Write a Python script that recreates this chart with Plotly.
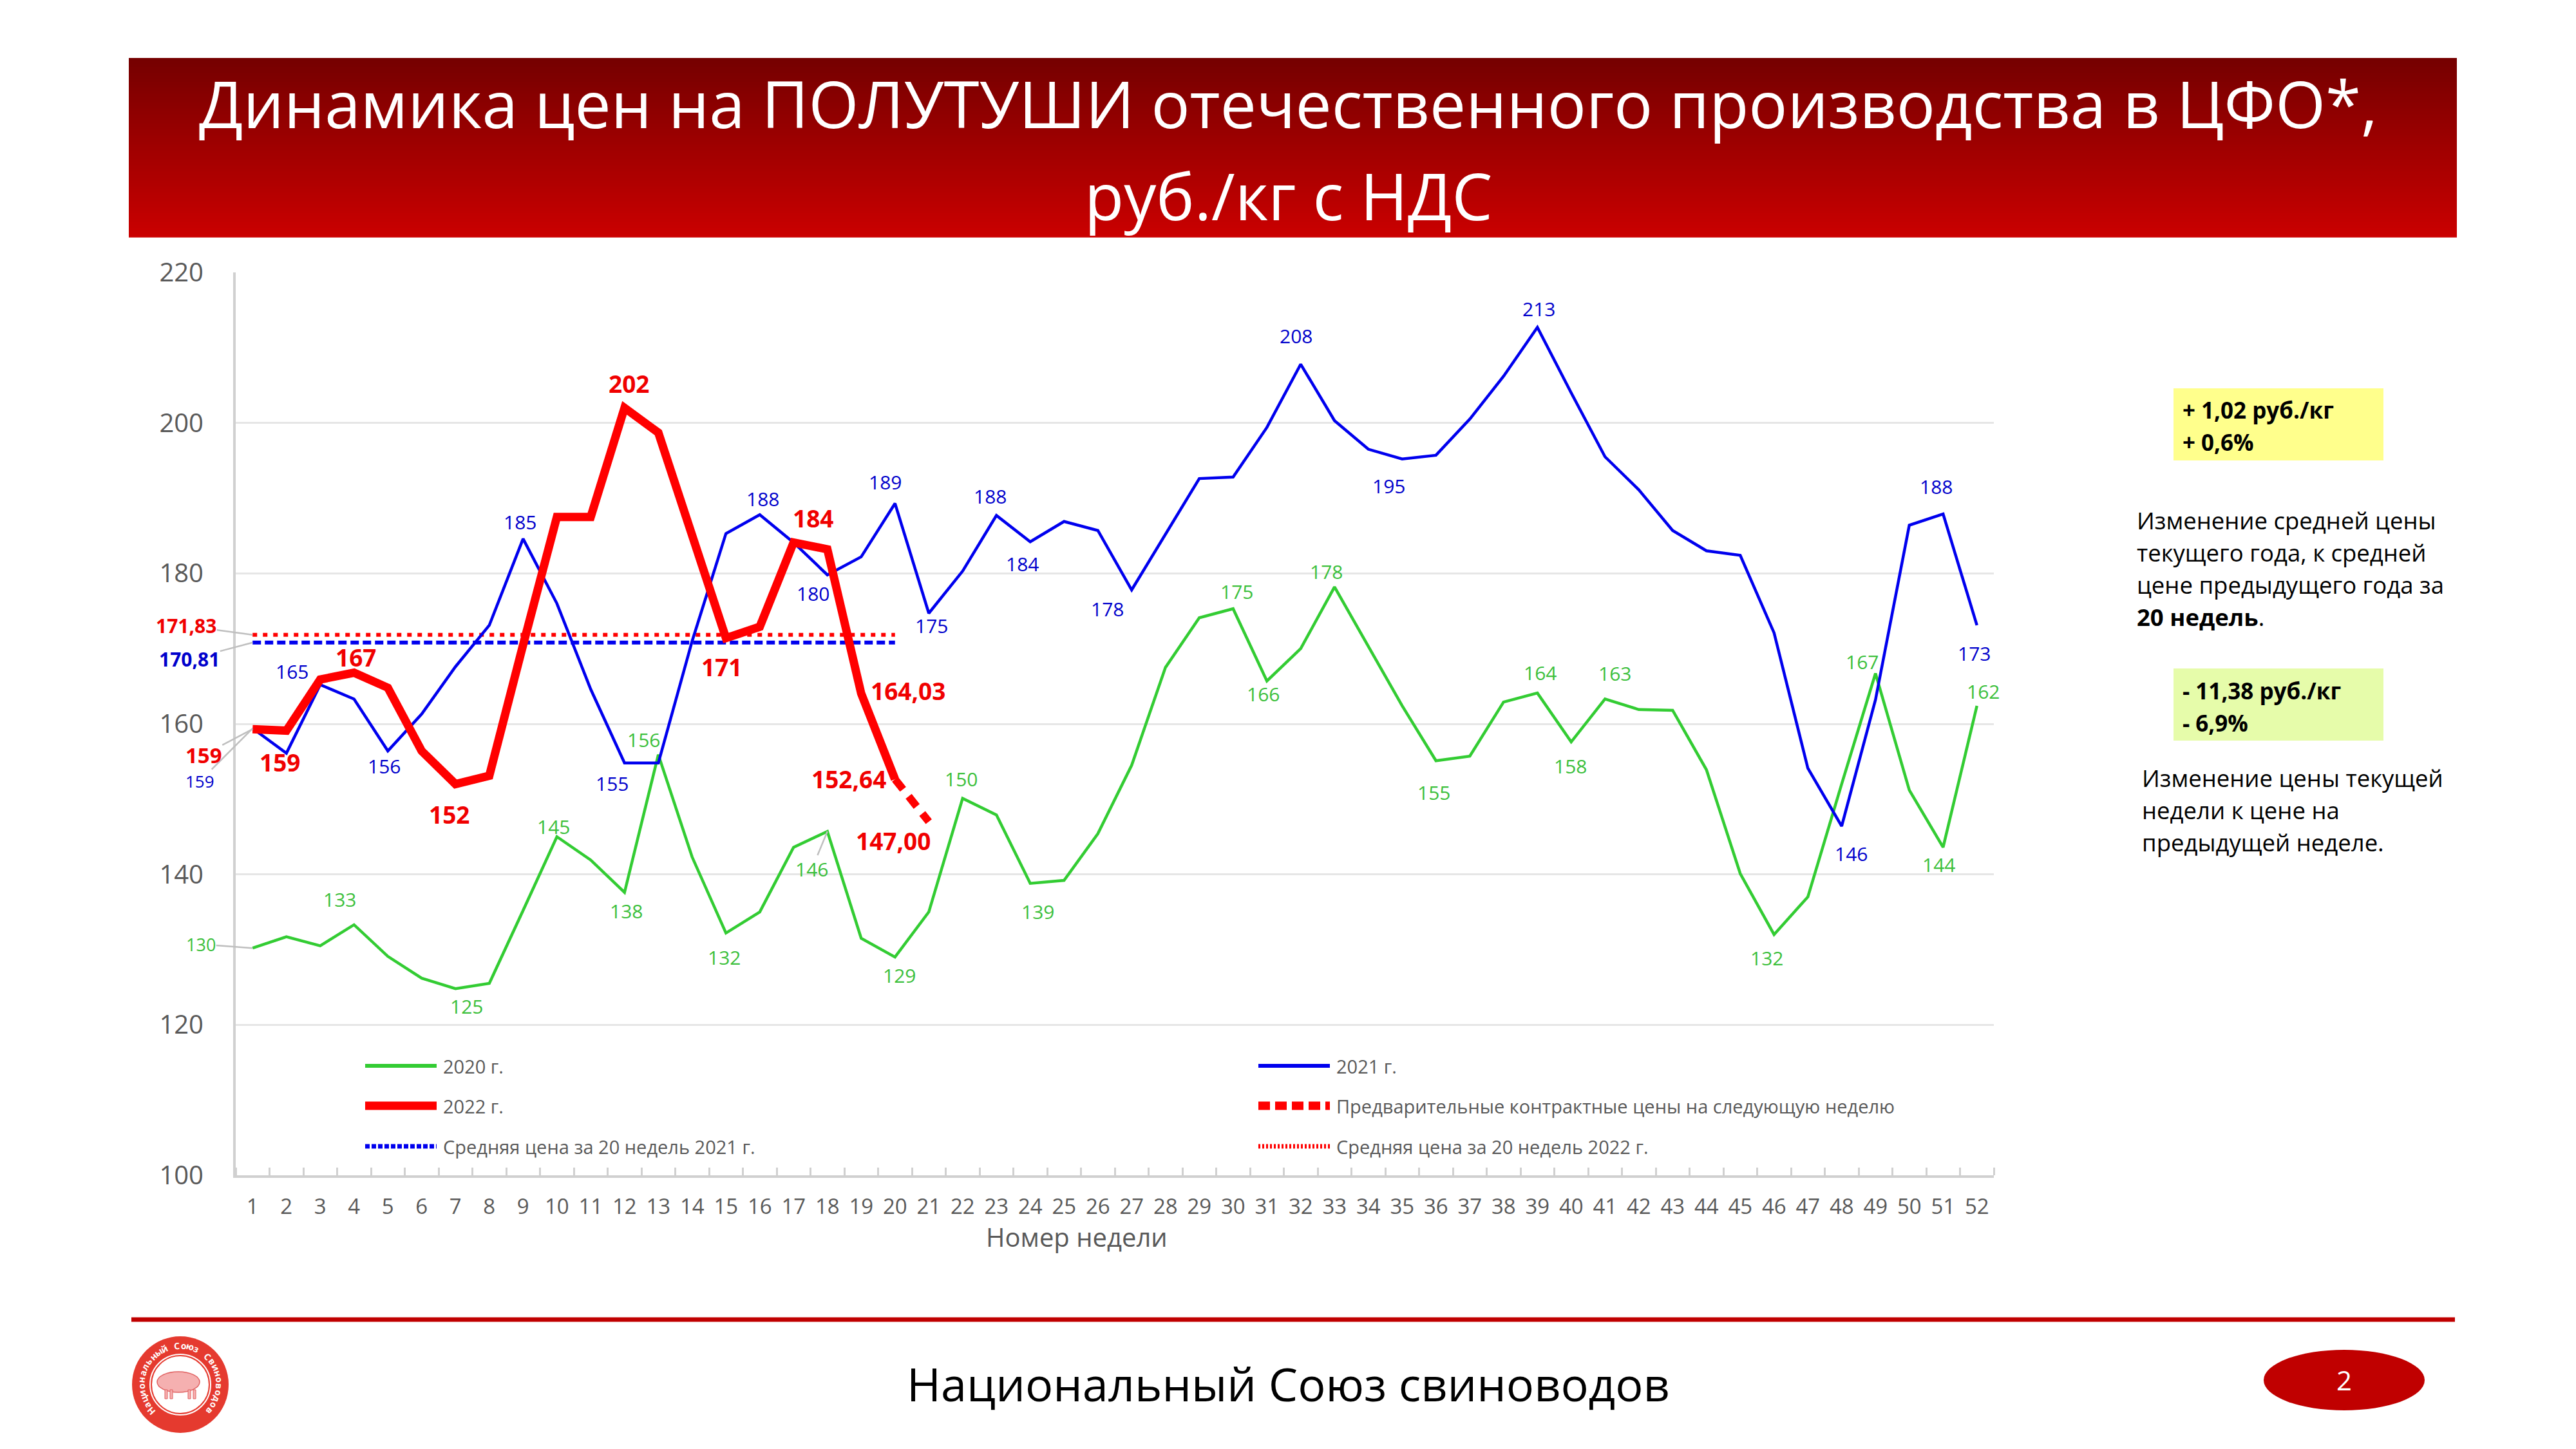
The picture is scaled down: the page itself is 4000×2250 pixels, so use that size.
import math
import plotly.graph_objects as go

# ---------------- data ----------------
weeks = list(range(1, 53))
price_2020 = [130.2, 131.7, 130.5, 133.3, 129.1, 126.2, 124.8, 125.5, 135.2, 145.0,
              141.9, 137.6, 155.9, 142.3, 132.2, 135.0, 143.6, 145.7, 131.5, 129.0,
              135.0, 150.1, 147.9, 138.8, 139.2, 145.4, 154.5, 167.5, 174.1, 175.3,
              165.7, 170.0, 178.2, 170.3, 162.4, 155.1, 155.7, 162.9, 164.1, 157.6,
              163.3, 161.9, 161.8, 153.9, 140.1, 132.0, 137.0, 152.0, 166.7, 151.2,
              143.6, 162.4]
price_2021 = [159.4, 156.1, 165.2, 163.3, 156.4, 161.3, 167.6, 173.1, 184.6, 176.0,
              164.6, 154.8, 154.8, 171.0, 185.3, 187.8, 184.1, 179.8, 182.2, 189.3,
              174.7, 180.3, 187.7, 184.2, 186.9, 185.7, 177.8, 185.2, 192.6, 192.8,
              199.4, 207.8, 200.3, 196.5, 195.2, 195.7, 200.5, 206.2, 212.7, 204.0,
              195.5, 191.1, 185.7, 183.0, 182.4, 172.1, 154.1, 146.4, 163.2, 186.4,
              187.9, 173.1]
weeks_2022 = list(range(1, 21))
price_2022 = [159.3, 159.1, 165.9, 166.8, 164.8, 156.4, 152.0, 153.1, 170.5, 187.5,
              187.5, 202.0, 198.7, 185.1, 171.4, 172.9, 184.1, 183.2, 164.03, 152.64]
weeks_forecast = [20, 21]
price_forecast = [152.64, 147.00]
avg_weeks = [1, 20]
avg_2021 = 170.81
avg_2022 = 171.83
y_ticks = [100, 120, 140, 160, 180, 200, 220]

# labelled points (style: offsets in px, dx right, dy down)
green_labels = {4: (-22, -39), 7: (17, 27), 10: (-5, -16), 12: (3, 29), 13: (-23, -23),
                15: (-3, 38), 20: (7, 28), 22: (-2, -30), 24: (12, 44), 30: (6, -27),
                31: (-6, 20), 33: (-13, -24), 36: (-3, 49), 39: (4, -32), 40: (-1, 37),
                41: (15, -40), 46: (-11, 36), 49: (-21, -18), 51: (-7, 27), 52: (10, -22)}
blue_labels = {3: (-44, -21), 5: (-6, 23), 9: (-5, -26), 12: (-19, 32), 16: (5, -25),
               18: (-22, 29), 20: (-15, -33), 21: (4, 19), 23: (-10, -30), 24: (-12, 34),
               27: (-38, 29), 32: (-7, -44), 35: (-21, 42), 39: (2, -29), 48: (15, 43),
               51: (-11, -43), 52: (-4, 44)}
red_labels = {2: (-10, 49), 4: (3, -24), 7: (-10, 47), 12: (7, -38), 15: (-7, 45),
              17: (30, -38)}
red_dec_labels = {19: (73, -4), 20: (-72, 0)}

# ---------------- geometry helpers ----------------
OFF = 8                      # page offset of the plot div (body margin)
W, H = 4000 - OFF, 2250 - OFF
L, R, T, B = 366, 3096, 423, 1825   # plot area in page pixels


def px(x):
    return (x - L) / (R - L)


def py(y):
    return (B - y) / (B - T)


GREEN = "#33cc33"
GREEN_T = "#3cc03c"
BLUE = "#0000ee"
BLUE_T = "#0000cc"
RED = "#ff0000"
RED_T = "#f00000"
GREY = "#595959"
FONT = "Open Sans"

fig = go.Figure()
common = dict(mode="lines", showlegend=False, hoverinfo="skip")
fig.add_trace(go.Scatter(x=avg_weeks, y=[avg_2021] * 2, line=dict(color=BLUE, width=6, dash="13px,6px"), **common))
fig.add_trace(go.Scatter(x=avg_weeks, y=[avg_2022] * 2, line=dict(color=RED, width=6, dash="7px,9px"), **common))
fig.add_trace(go.Scatter(x=weeks, y=price_2020, line=dict(color=GREEN, width=4.5), **common))
fig.add_trace(go.Scatter(x=weeks, y=price_2021, line=dict(color=BLUE, width=4.5), **common))
fig.add_trace(go.Scatter(x=weeks_2022, y=price_2022, line=dict(color=RED, width=13), **common))
fig.add_trace(go.Scatter(x=weeks_forecast, y=price_forecast, line=dict(color=RED, width=12, dash="20px,14px"), **common))

ann = []
shapes = []


def fmt_int(v):
    return str(int(round(v)))


def fmt_dec(v):
    return f"{v:.2f}".replace(".", ",")


def add_label(w, v, text, dx, dy, color, size, bold=False, arrow=False):
    t = f"<b>{text}</b>" if bold else text
    d = dict(x=w, y=v, xref="x", yref="y", text=t,
             font=dict(family=FONT, size=size, color=color))
    if arrow:
        d.update(showarrow=True, ax=dx, ay=dy, arrowhead=0, arrowwidth=2.5,
                 arrowcolor="#bfbfbf", standoff=0, borderpad=0)
    else:
        d.update(showarrow=False, xshift=dx, yshift=-dy)
    ann.append(d)


for w, (dx, dy) in green_labels.items():
    add_label(w, price_2020[w - 1], fmt_int(price_2020[w - 1]), dx, dy, GREEN_T, 30)
add_label(18, price_2020[17], fmt_int(price_2020[17]), -24, 58, GREEN_T, 30, arrow=True)
add_label(1, price_2020[0], fmt_int(price_2020[0]), -80, -6, GREEN_T, 27, arrow=True)

for w, (dx, dy) in blue_labels.items():
    add_label(w, price_2021[w - 1], fmt_int(price_2021[w - 1]), dx, dy, BLUE_T, 30)
add_label(1, price_2021[0], fmt_int(price_2021[0]), -82, 82, BLUE_T, 26, arrow=True)

for w, (dx, dy) in red_labels.items():
    add_label(w, price_2022[w - 1], fmt_int(price_2022[w - 1]), dx, dy, RED_T, 37, bold=True)
for w, (dx, dy) in red_dec_labels.items():
    add_label(w, price_2022[w - 1], fmt_dec(price_2022[w - 1]), dx, dy, RED_T, 37, bold=True)
add_label(weeks_forecast[1], price_forecast[1], fmt_dec(price_forecast[1]), -55, 30, RED_T, 37, bold=True)
add_label(1, price_2022[0], fmt_int(price_2022[0]), -76, 40, RED_T, 33, bold=True, arrow=True)

add_label(1, avg_2022, fmt_dec(avg_2022), -103, -14, RED_T, 30, bold=True, arrow=True)
add_label(1, avg_2021, fmt_dec(avg_2021), -98, 26, BLUE_T, 30, bold=True, arrow=True)


def pann(x, y, text, size, color="black", xanchor="left", bold=False, family=FONT):
    t = f"<b>{text}</b>" if bold else text
    ann.append(dict(x=px(x), y=py(y), xref="paper", yref="paper", text=t, showarrow=False,
                    xanchor=xanchor, yanchor="middle",
                    font=dict(family=family, size=size, color=color)))


# axis title
pann(1672, 1920, "Номер недели", 40, GREY, xanchor="center")

# legend (manual, two columns)
legend_items = [
    (567, 1655, "2020 г.", GREEN, 6, "solid"),
    (1954, 1655, "2021 г.", BLUE, 6, "solid"),
    (567, 1717, "2022 г.", RED, 13, "solid"),
    (1954, 1717, "Предварительные контрактные цены на следующую неделю", RED, 13, "18px,8px"),
    (567, 1780, "Средняя цена за 20 недель 2021 г.", BLUE, 7, "7px,3px"),
    (1954, 1780, "Средняя цена за 20 недель 2022 г.", RED, 7, "3px,3px"),
]
for x0, y0, txt, col, lw, dash in legend_items:
    shapes.append(dict(type="line", xref="paper", yref="paper", x0=px(x0), x1=px(x0 + 111),
                       y0=py(y0), y1=py(y0), line=dict(color=col, width=lw, dash=dash)))
    pann(x0 + 119, y0, txt, 29, GREY)

# title banner with gradient
n = 60
y_top, y_bot = 90, 368
for i in range(n):
    f = i / (n - 1)
    r = int(118 + (202 - 118) * f)
    ya = y_top + (y_bot - y_top) * i / n
    yb = y_top + (y_bot - y_top) * (i + 1) / n + 0.8
    shapes.append(dict(type="rect", xref="paper", yref="paper", x0=px(200), x1=px(3815),
                       y0=py(yb), y1=py(ya), fillcolor=f"rgb({r},0,0)", line=dict(width=0),
                       layer="below"))
pann(2000, 160, "Динамика цен на ПОЛУТУШИ отечественного производства в ЦФО*,", 100, "white", xanchor="center")
pann(2000, 303, "руб./кг с НДС", 100, "white", xanchor="center")

# right-hand notes
shapes.append(dict(type="rect", xref="paper", yref="paper", x0=px(3375), x1=px(3701),
                   y0=py(715), y1=py(603), fillcolor="#ffff8c", line=dict(width=0)))
shapes.append(dict(type="rect", xref="paper", yref="paper", x0=px(3375), x1=px(3701),
                   y0=py(1150), y1=py(1038), fillcolor="#e6fcaa", line=dict(width=0)))
pann(3387, 636, "+ 1,02 руб./кг", 35, bold=True)
pann(3387, 686, "+ 0,6%", 35, bold=True)
pann(3387, 1072, "- 11,38 руб./кг", 35, bold=True)
pann(3387, 1122, "- 6,9%", 35, bold=True)
for yy, t in zip([808, 858, 908, 958],
                 ["Изменение средней цены", "текущего года, к средней", "цене предыдущего года за",
                  "<b>20 недель</b>."]):
    pann(3316, yy, t, 36.5)
for yy, t in zip([1208, 1258, 1308],
                 ["Изменение цены текущей", "недели к цене на", "предыдущей неделе."]):
    pann(3324, yy, t, 36.5)

# footer
shapes.append(dict(type="line", xref="paper", yref="paper", x0=px(204), x1=px(3812),
                   y0=py(2049), y1=py(2049), line=dict(color="#c00000", width=7)))
pann(2000, 2148, "Национальный Союз свиноводов", 72, "black", xanchor="center")
shapes.append(dict(type="circle", xref="paper", yref="paper", x0=px(3515), x1=px(3765),
                   y0=py(2190), y1=py(2096), fillcolor="#c00000", line=dict(width=0)))
pann(3640, 2142, "2", 42, "white", xanchor="center")

# logo
cx, cy = 280, 2150
shapes.append(dict(type="circle", xref="paper", yref="paper", x0=px(cx - 75), x1=px(cx + 75),
                   y0=py(cy + 75), y1=py(cy - 75), fillcolor="#e53a2f", line=dict(width=0)))
shapes.append(dict(type="circle", xref="paper", yref="paper", x0=px(cx - 49), x1=px(cx + 49),
                   y0=py(cy + 49), y1=py(cy - 49), fillcolor="white", line=dict(color="#e53a2f", width=2)))
shapes.append(dict(type="circle", xref="paper", yref="paper", x0=px(cx - 45), x1=px(cx + 45),
                   y0=py(cy + 45), y1=py(cy - 45), fillcolor="rgba(0,0,0,0)", line=dict(color="#e53a2f", width=2)))
shapes.append(dict(type="circle", xref="paper", yref="paper", x0=px(cx - 36), x1=px(cx + 30),
                   y0=py(cy + 12), y1=py(cy - 20), fillcolor="#f5b0b0", line=dict(color="#e06060", width=1.5)))
for lx in (cx - 24, cx - 16, cx + 12, cx + 20):
    shapes.append(dict(type="rect", xref="paper", yref="paper", x0=px(lx), x1=px(lx + 4),
                       y0=py(cy + 22), y1=py(cy + 8), fillcolor="#f5b0b0", line=dict(color="#e06060", width=1)))
logo_text = "Национальный Союз Свиноводов"
a0, a1 = 222.0, -42.0
for i, ch in enumerate(logo_text):
    if ch == " ":
        continue
    ang = a0 + (a1 - a0) * i / (len(logo_text) - 1)
    rad = math.radians(ang)
    lxp = cx + 61 * math.cos(rad)
    lyp = cy - 61 * math.sin(rad)
    ann.append(dict(x=px(lxp), y=py(lyp), xref="paper", yref="paper", text=f"<b>{ch}</b>",
                    showarrow=False, textangle=90 - ang, xanchor="center", yanchor="middle",
                    font=dict(family=FONT, size=14, color="white")))

fig.update_layout(
    width=W, height=H, autosize=False,
    margin=dict(l=L - OFF, r=W - (R - OFF), t=T - OFF, b=H - (B - OFF), pad=0),
    paper_bgcolor="white", plot_bgcolor="white",
    font=dict(family=FONT, color=GREY),
    showlegend=False,
    xaxis=dict(range=[0.5, 52.5], tickmode="linear", tick0=1, dtick=1, ticks="",
               showgrid=False, zeroline=False, showline=True, linecolor="#d0d0d0", linewidth=4,
               tickfont=dict(family=FONT, size=33, color=GREY), ticklabelstandoff=16,
               minor=dict(ticks="inside", tick0=0.5, dtick=1, ticklen=12, tickwidth=3,
                          tickcolor="#d0d0d0", showgrid=False)),
    yaxis=dict(range=[100, 220], tickmode="array", tickvals=y_ticks, ticks="",
               showgrid=True, gridcolor="#e6e6e6", gridwidth=3, zeroline=False,
               showline=True, linecolor="#d0d0d0", linewidth=4,
               tickfont=dict(family=FONT, size=40, color=GREY), ticklabelstandoff=38),
    annotations=ann,
    shapes=shapes,
)

fig.write_html("out.html")
